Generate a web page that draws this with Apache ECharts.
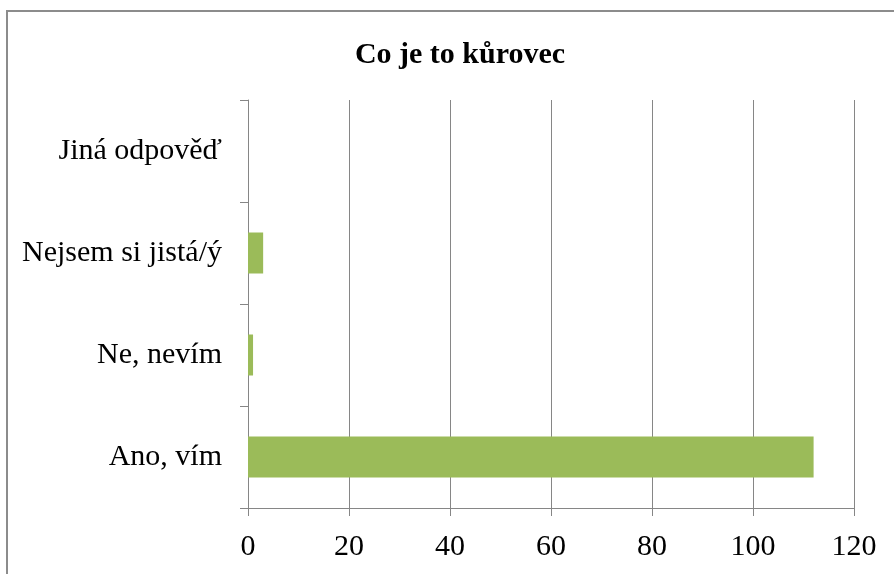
<!DOCTYPE html>
<html>
<head>
    <meta charset="utf-8">
    <title>Co je to kůrovec</title>
    <script src="https://cdn.jsdelivr.net/npm/echarts@6/dist/echarts.min.js"></script>
    <style>
        html, body { margin: 0; padding: 0; background: #fff; }
    </style>
</head>
<body>
    <div id="main" style="width: 894px;height:574px;"></div>
    <script type="text/javascript">
        // data, bottom to top as drawn
        var categories = ['Ano, vím', 'Ne, nevím', 'Nejsem si jistá/ý', 'Jiná odpověď'];
        var values = [112, 1, 3, 0];
        var xTicks = { min: 0, max: 120, interval: 20 };

        var axisGray = '#868686';
        var font = '"Liberation Serif", "Times New Roman", serif';

        var myChart = echarts.init(document.getElementById('main'));

        var option = {
            backgroundColor: '#fff',
            animation: false,
            title: {
                text: 'Co je to kůrovec',
                left: 455,
                top: 35,
                textAlign: 'center',
                textStyle: {
                    fontFamily: font,
                    fontSize: 30,
                    fontWeight: 'bold',
                    color: '#000'
                }
            },
            // outer chart frame, only left and top edges fall inside the window
            graphic: [{
                type: 'rect',
                shape: { x: 7, y: 11, width: 1000, height: 700 },
                style: { fill: 'none', stroke: '#8c8c8c', lineWidth: 2 },
                silent: true
            }],
            grid: {
                left: 248,
                right: 40,
                top: 100,
                bottom: 66
            },
            xAxis: {
                type: 'value',
                min: xTicks.min,
                max: xTicks.max,
                interval: xTicks.interval,
                axisLine: { show: true, lineStyle: { color: axisGray, width: 1 } },
                axisTick: { show: true, length: 8, lineStyle: { color: axisGray } },
                splitLine: { show: true, lineStyle: { color: axisGray, width: 1 } },
                axisLabel: {
                    fontFamily: font,
                    fontSize: 30,
                    color: '#000',
                    margin: 24
                }
            },
            yAxis: {
                type: 'category',
                data: categories,
                axisLine: { show: true, lineStyle: { color: axisGray, width: 1 } },
                axisTick: { show: true, length: 8, lineStyle: { color: axisGray } },
                axisLabel: {
                    fontFamily: font,
                    fontSize: 30,
                    color: '#000',
                    margin: 26,
                    padding: [6, 0, 0, 0]
                }
            },
            series: [{
                type: 'bar',
                data: values,
                barWidth: 41,
                itemStyle: { color: '#9bbb59' },
                label: { show: false }
            }]
        };

        myChart.setOption(option);
    </script>
</body>
</html>
